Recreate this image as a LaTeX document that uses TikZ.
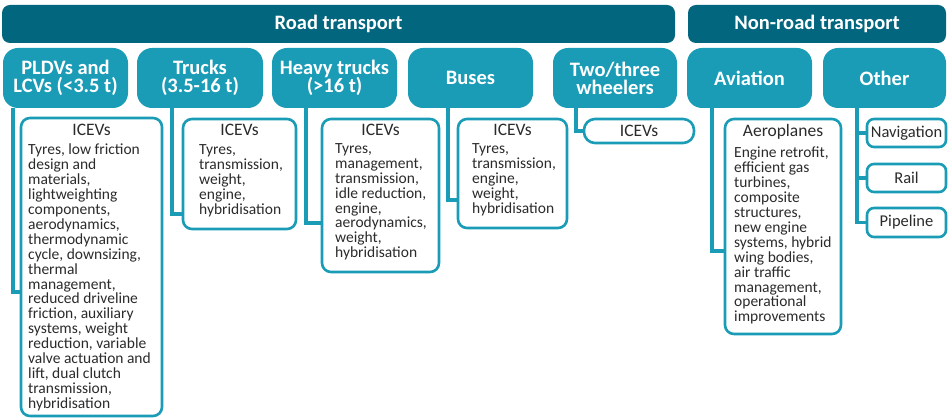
\documentclass[tikz,border=0pt]{standalone}
\usepackage{fontspec}
\setmainfont{Carlito}
\definecolor{cdark}{HTML}{03667F}
\definecolor{cteal}{HTML}{1A9CB7}
\definecolor{ctext}{HTML}{2B2B2B}
\newcommand\catf{\fontsize{20.5}{18}\selectfont\bfseries\lineskiplimit=-50pt\lineskip=0pt}
\newcommand\bodyf{\fontsize{15.5}{14.9}\selectfont\lineskiplimit=-50pt\lineskip=0pt}
\newcommand\headf{\fontsize{17.5}{18}\selectfont}
\newcommand\smallf{\fontsize{16.5}{18}\selectfont}
\newcommand\cattxt[2]{\begin{minipage}{#1pt}\centering\catf #2\end{minipage}}
\newcommand\bodytxt[1]{\begin{minipage}[t]{160pt}\raggedright\bodyf #1\par\end{minipage}}
\begin{document}
\begin{tikzpicture}[x=1pt,y=-1pt,
  bar/.style={fill=cdark, rounded corners=8pt, inner sep=0pt, outer sep=0pt, anchor=north west,
    text=white, font=\catf, minimum height=38pt},
  catbox/.style={fill=cteal, rounded corners=15pt, inner sep=0pt, outer sep=0pt, anchor=north west,
    text=white, minimum height=60pt},
  subbox/.style={draw=cteal, line width=2.6pt, fill=white, rounded corners=9pt, inner sep=0pt,
    outer sep=0pt, anchor=north west},
  smallbox/.style={subbox, rounded corners=7pt, text=ctext, font=\smallf},
  subhead/.style={anchor=base, inner sep=0pt, text=ctext, font=\headf},
  bodytext/.style={anchor=base west, inner sep=0pt, text=ctext},
  conn/.style={draw=cteal, line width=3.2pt, line join=miter}]
\useasboundingbox (0,0) rectangle (949,419);

% header bars
\node[bar, minimum width=673pt] (road) at (2,5) {Road transport};
\node[bar, minimum width=258pt] (nonroad) at (688,5) {Non-road transport};

% category boxes
\node[catbox, minimum width=125pt] (pldv) at (3,48) {\cattxt{121}{PLDVs and\\LCVs (<3.5 t)}};
\node[catbox, minimum width=126pt] (trucks) at (137,48) {\cattxt{122}{Trucks\\(3.5-16 t)}};
\node[catbox, minimum width=125pt] (heavy) at (272,48) {\cattxt{121}{Heavy trucks\\(>16 t)}};
\node[catbox, minimum width=125pt] (buses) at (408,48) {\cattxt{121}{Buses}};
\node[catbox, minimum width=124pt] (two) at (553,48) {\cattxt{120}{Two/three\\wheelers}};
\node[catbox, minimum width=125pt] (avi) at (687,48) {\cattxt{121}{Aviation}};
\node[catbox, minimum width=123pt] (other) at (823,48) {\cattxt{119}{Other}};

% sub boxes
\node[subbox, minimum width=141pt, minimum height=298pt] (pI) at (21,118) {};
\node[subbox, minimum width=113pt, minimum height=110pt] (tI) at (183,119) {};
\node[subbox, minimum width=117pt, minimum height=153pt] (hI) at (322,119) {};
\node[subbox, minimum width=109pt, minimum height=109pt] (bI) at (458,119) {};
\node[smallbox, minimum width=110pt, minimum height=24pt, rounded corners=11pt, font=\headf] (wI) at (584,119) {ICEVs};
\node[subbox, minimum width=116pt, minimum height=215pt] (aI) at (725,119) {};
\node[smallbox, minimum width=79pt, minimum height=28pt] (nav) at (867,119) {Navigation};
\node[smallbox, minimum width=79pt, minimum height=28pt] (rail) at (867,164) {Rail};
\node[smallbox, minimum width=79pt, minimum height=29pt] (pipe) at (867,208) {Pipeline};

% headings
\node[subhead] (pIh) at ([yshift=-18pt]pI.north) {ICEVs};
\node[subhead] (tIh) at ([yshift=-17pt]tI.north) {ICEVs};
\node[subhead] (hIh) at ([yshift=-17pt]hI.north) {ICEVs};
\node[subhead] (bIh) at ([yshift=-17pt]bI.north) {ICEVs};
\node[subhead] (aIh) at ([yshift=-18pt]aI.north) {Aeroplanes};

% body texts
\node[bodytext] (pIb) at ([xshift=7pt,yshift=-37pt]pI.north west) {\bodytxt{Tyres, low friction\\design and\\materials,\\lightweighting\\components,\\aerodynamics,\\thermodynamic\\cycle, downsizing,\\thermal\\management,\\reduced driveline\\friction, auxiliary\\systems, weight\\reduction, variable\\valve actuation and\\lift, dual clutch\\transmission,\\hybridisation}};
\node[bodytext] (tIb) at ([xshift=16pt,yshift=-36pt]tI.north west) {\bodytxt{Tyres,\\transmission,\\weight,\\engine,\\hybridisation}};
\node[bodytext] (hIb) at ([xshift=13pt,yshift=-34.5pt]hI.north west) {\bodytxt{Tyres,\\management,\\transmission,\\idle reduction,\\engine,\\aerodynamics,\\weight,\\hybridisation}};
\node[bodytext] (bIb) at ([xshift=14pt,yshift=-34.5pt]bI.north west) {\bodytxt{Tyres,\\transmission,\\engine,\\weight,\\hybridisation}};
\node[bodytext] (aIb) at ([xshift=9pt,yshift=-39pt]aI.north west) {\bodytxt{Engine retrofit,\\efficient gas\\turbines,\\composite\\structures,\\new engine\\systems, hybrid\\wing bodies,\\air traffic\\management,\\operational\\improvements}};

% connectors
\draw[conn] ([xshift=10pt]pldv.south west) |- ([yshift=-174pt]pI.north west);
\draw[conn] ([xshift=35pt]trucks.south west) |- ([yshift=-95pt]tI.north west);
\draw[conn] ([xshift=34pt]heavy.south west) |- ([yshift=-104pt]hI.north west);
\draw[conn] ([xshift=40pt]buses.south west) |- ([yshift=-81pt]bI.north west);
\draw[conn] ([xshift=23pt]two.south west) |- (wI.west);
\draw[conn] ([xshift=25pt]avi.south west) |- ([yshift=-132pt]aI.north west);
\draw[conn] ([xshift=34pt]other.south west) |- (pipe.west);
\draw[conn] ([xshift=34pt]other.south west) |- (rail.west);
\draw[conn] ([xshift=34pt]other.south west) |- (nav.west);
\end{tikzpicture}
\end{document}
